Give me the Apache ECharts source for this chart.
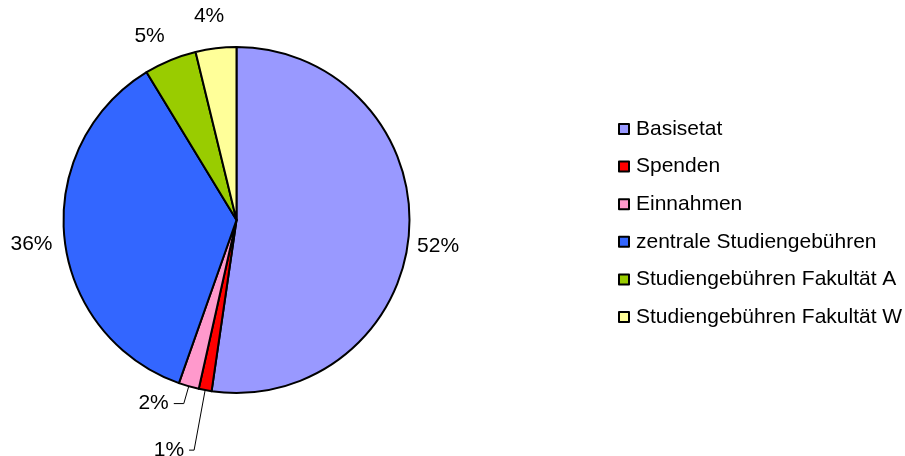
<!DOCTYPE html>
<html>
<head>
<meta charset="utf-8">
<script src="https://cdn.jsdelivr.net/npm/echarts@6/dist/echarts.min.js"></script>
<style>
  html, body { margin: 0; padding: 0; background: #fff; }
  #chart { width: 905px; height: 456px; }
</style>
</head>
<body>
<div id="chart"></div>
<script>
var myChart = echarts.init(document.getElementById('chart'));

// data (percent shares)
var categories = ['Basisetat', 'Spenden', 'Einnahmen', 'zentrale Studiengebühren',
                  'Studiengebühren Fakultät A', 'Studiengebühren Fakultät W'];
var values = [52.3, 1.2, 1.9, 35.9, 4.9, 3.8];
var colors = ['#9999FF', '#FF0000', '#FF99CC', '#3366FF', '#99CC00', '#FFFF99'];

// label leader lines: only the two small slices show one
var lineShow = [false, true, true, false, false, false];
var lineLen = [10, 61, 18, 14, 25, 22];
var lineLen2 = [0, 5, 10, 0, 0, 0];
// small nudges for the labels without leader line
var labelShift = [[-7, 13], [0, 0], [0, 0], [7, 5], [9, -1], [16, -10]];

var pieData = [];
for (var i = 0; i < categories.length; i++) {
    pieData.push({
        name: categories[i],
        value: values[i],
        itemStyle: { color: colors[i] },
        labelLine: { show: lineShow[i], length: lineLen[i], length2: lineLen2[i] }
    });
}

option = {
    animation: false,
    legend: {
        orient: 'vertical',
        left: 613,
        top: 113,
        icon: 'rect',
        itemWidth: 10,
        itemHeight: 10,
        itemGap: 15.6,
        data: categories,
        textStyle: {
            fontFamily: 'Liberation Sans, Arial, sans-serif',
            fontSize: 21,
            lineHeight: 22,
            color: '#000',
            padding: [0, 0, 0, 2]
        }
    },
    series: [
        {
            type: 'pie',
            center: [236.5, 220],
            radius: [0, 173],
            startAngle: 90,
            clockwise: true,
            avoidLabelOverlap: false,
            itemStyle: { borderColor: '#000', borderWidth: 2 },
            label: {
                show: true,
                position: 'outside',
                fontFamily: 'Liberation Sans, Arial, sans-serif',
                fontSize: 21,
                color: '#000',
                formatter: function (p) { return Math.round(p.percent) + '%'; }
            },
            labelLayout: function (p) {
                var s = labelShift[p.dataIndex];
                return { dx: s[0], dy: s[1] };
            },
            labelLine: {
                lineStyle: { color: '#000', width: 1 }
            },
            emphasis: { disabled: true },
            data: pieData
        }
    ]
};

myChart.setOption(option);
</script>
</body>
</html>
